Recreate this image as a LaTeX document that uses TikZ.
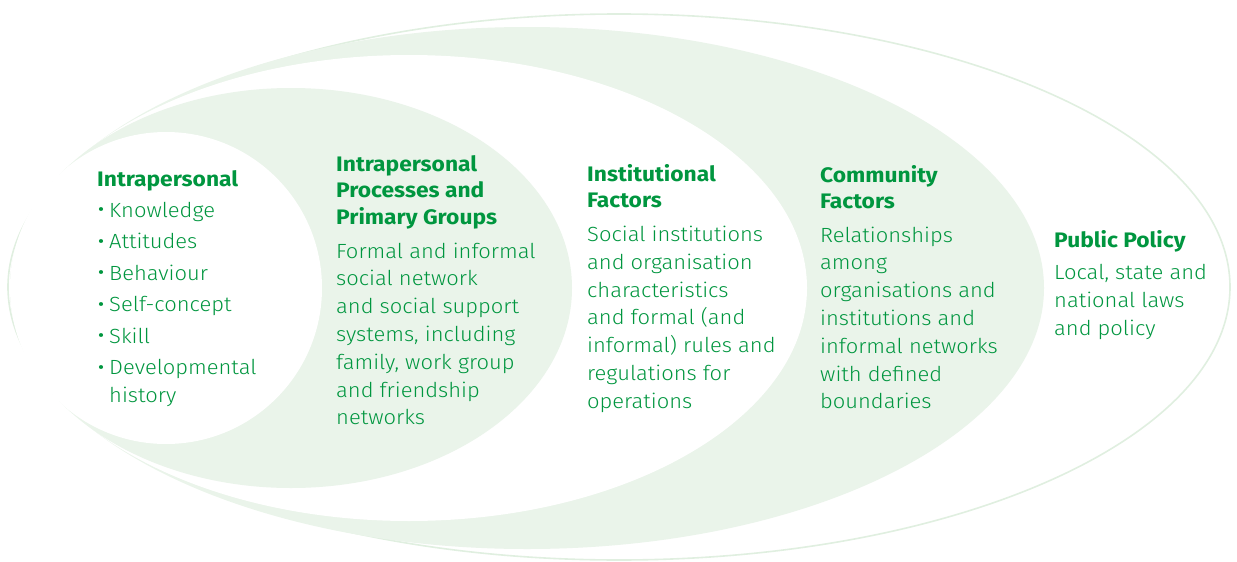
\documentclass[tikz,border=0pt]{standalone}
\usepackage{fontspec}
\setmainfont{Fira Sans}[UprightFont=* Light, BoldFont=* Bold,
  UprightFeatures={FakeStretch=1.07}, BoldFeatures={FakeStretch=1.085}]
\newcommand{\itemdot}{\makebox[12pt][l]{\raisebox{-1.6pt}{\fontsize{26}{0}\selectfont •}}}
\begin{document}
\begin{tikzpicture}[x=1pt,y=-1pt,
  ringfill/.style={fill=lightgreen,draw=none},
  holefill/.style={fill=white,draw=none},
  outerring/.style={fill=white,draw=edgegreen,line width=1.6pt},
  heading/.style={anchor=base west,inner sep=0pt,align=left,text=leafgreen,
    font=\fontsize{21}{26.8}\selectfont\bfseries},
  bodytext/.style={anchor=base west,inner sep=0pt,align=left,text=leafgreen,
    font=\fontsize{20.5}{27.8}\selectfont}]
\definecolor{lightgreen}{HTML}{EAF4EA}
\definecolor{edgegreen}{HTML}{E0EFE0}
\definecolor{leafgreen}{HTML}{00963F}
\useasboundingbox (0,0) rectangle (1237,562);

% nested ellipses, all touching on the left
\path[outerring] (619,287) ellipse [x radius=611pt, y radius=273pt];
\path[ringfill]  (527,288) ellipse [x radius=517pt, y radius=261pt];
\path[holefill]  (409,288) ellipse [x radius=398pt, y radius=233pt];
\path[ringfill]  (291,288) ellipse [x radius=281pt, y radius=200pt];
\path[holefill]  (166,288) ellipse [x radius=156pt, y radius=156pt];

% text blocks; each node sits on the baseline of its last line
% level 1
\node[heading] (h1) at (97,186) {Intrapersonal};
\node[bodytext] (b1) at (97,402.3) {%
  \itemdot Knowledge\\[3.7pt]
  \itemdot Attitudes\\[3.7pt]
  \itemdot Behaviour\\[3.7pt]
  \itemdot Self-concept\\[3.7pt]
  \itemdot Skill\\[3.7pt]
  \itemdot Developmental\\
  \hspace*{12pt}history};

% level 2
\node[heading] (h2) at (336,224.6) {Intrapersonal\\Processes and\\Primary Groups};
\node[bodytext] (b2) at (336,424.8) {Formal and informal\\social network\\and social support\\systems, including\\family, work group\\and friendship\\networks};

% level 3
\node[heading] (h3) at (587,207.8) {Institutional\\Factors};
\node[bodytext] (b3) at (587,408.3) {Social institutions\\and organisation\\characteristics\\and formal (and\\informal) rules and\\regulations for\\operations};

% level 4
\node[heading] (h4) at (820,208.8) {Community\\Factors};
\node[bodytext] (b4) at (820,408.8) {Relationships\\among\\organisations and\\institutions and\\informal networks\\with defined\\boundaries};

% level 5
\node[heading] (h5) at (1054,247) {Public Policy};
\node[bodytext] (b5) at (1054,335.3) {Local, state and\\national laws\\and policy};
\end{tikzpicture}
\end{document}
